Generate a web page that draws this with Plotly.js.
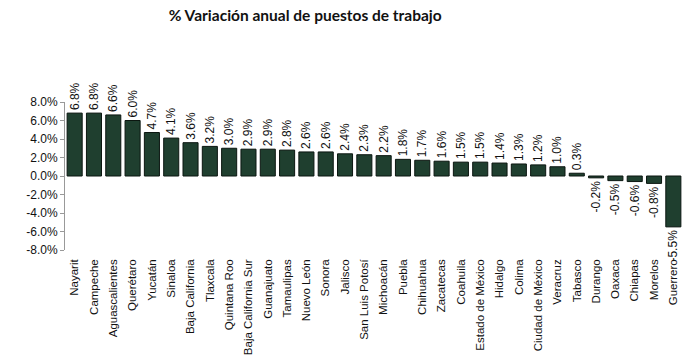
<!DOCTYPE html>
<html>
<head>
<meta charset="utf-8">
<script src="https://cdn.plot.ly/plotly-3.0.1.min.js"></script>
<style>html,body{margin:0;padding:0;background:#fff;}#chart{width:700px;height:361px;}</style>
</head>
<body>
<div id="chart"></div>
<script>
const estados = ["Nayarit","Campeche","Aguascalientes","Querétaro","Yucatán","Sinaloa","Baja California","Tlaxcala","Quintana Roo","Baja California Sur","Guanajuato","Tamaulipas","Nuevo León","Sonora","Jalisco","San Luis Potosí","Michoacán","Puebla","Chihuahua","Zacatecas","Coahuila","Estado de México","Hidalgo","Colima","Ciudad de México","Veracruz","Tabasco","Durango","Oaxaca","Chiapas","Morelos","Guerrero"];
const variacion = [6.8,6.8,6.6,6.0,4.7,4.1,3.6,3.2,3.0,2.9,2.9,2.8,2.6,2.6,2.4,2.3,2.2,1.8,1.7,1.6,1.5,1.5,1.4,1.3,1.2,1.0,0.3,-0.2,-0.5,-0.6,-0.8,-5.5];
const yTicks = [-8,-6,-4,-2,0,2,4,6,8];

const font = "Liberation Sans, Arial, sans-serif";
const boundaries = estados.map((_, i) => i - 0.5).concat([estados.length - 0.5]);

const trace = {
  type: "bar",
  x: estados,
  y: variacion,
  marker: {color: "#1f3f2f", line: {color: "#0b1610", width: 1}},
  texttemplate: "%{y:.1f}%",
  textposition: "outside",
  textangle: -90,
  constraintext: "none",
  cliponaxis: false,
  textfont: {family: font, size: 12, color: "#111"},
  hoverinfo: "x+y"
};

const layout = {
  width: 700, height: 361,
  margin: {l: 65, r: 17, t: 102, b: 111},
  paper_bgcolor: "#fff", plot_bgcolor: "#fff",
  showlegend: false,
  bargap: 0.22,
  title: {text: "<b>% Variación anual de puestos de trabajo</b>", x: 0.436, xanchor: "center", y: 0.958, yanchor: "middle",
          font: {family: "Lato, Open Sans, sans-serif", size: 15.5, color: "#111"}},
  xaxis: {
    type: "category",
    range: [-0.5, estados.length - 0.5],
    tickangle: -90,
    ticks: "", showline: false, showgrid: false, zeroline: false,
    tickfont: {family: font, size: 11.5, color: "#111"},
    ticklabelstandoff: 6
  },
  xaxis2: {
    overlaying: "x", anchor: "free", position: 0.5, side: "bottom",
    range: [-0.5, estados.length - 0.5],
    tickmode: "array", tickvals: boundaries, showticklabels: false,
    ticks: "outside", ticklen: 4, tickcolor: "#999", tickwidth: 1,
    showline: true, linecolor: "#999", linewidth: 1, showgrid: false, zeroline: false
  },
  yaxis: {
    range: [-8, 8],
    tickmode: "array", tickvals: yTicks,
    ticktext: yTicks.map(v => v.toFixed(1) + "%"),
    ticks: "outside", ticklen: 4, tickcolor: "#999",
    showline: true, linecolor: "#999", linewidth: 1,
    showgrid: false, zeroline: false,
    tickfont: {family: font, size: 12, color: "#111"}
  }
};

Plotly.newPlot("chart", [trace], layout, {staticPlot: true, displayModeBar: false});
</script>
</body>
</html>
